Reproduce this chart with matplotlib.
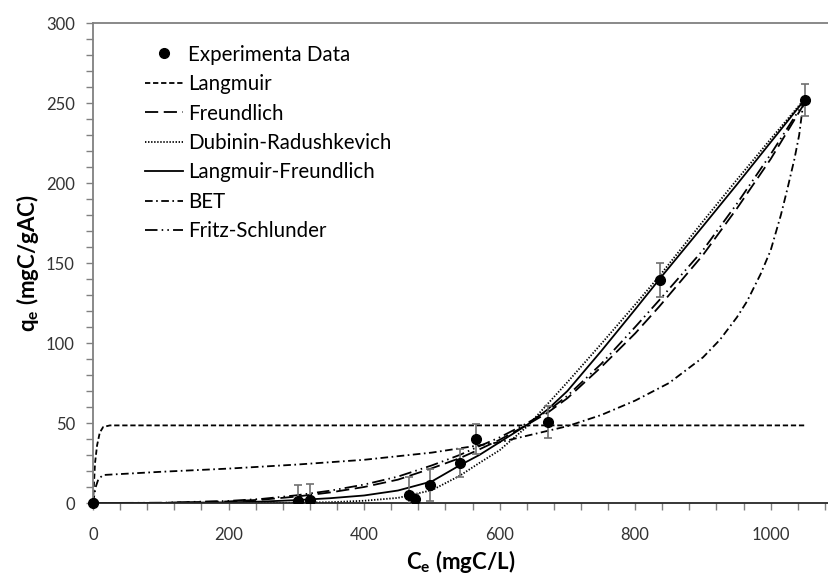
import matplotlib
matplotlib.use("Agg")
import matplotlib.pyplot as plt
from matplotlib.ticker import MultipleLocator
from matplotlib.lines import Line2D

plt.rcParams['font.family'] = ['Lato', 'DejaVu Sans']
plt.rcParams['lines.scale_dashes'] = False

# Experimental equilibrium data
ce_exp = [0, 302, 320, 467, 475, 497, 541, 565, 671, 836, 1050]
qe_exp = [0, 1.2, 1.9, 5.0, 2.5, 11.2, 25.0, 40.0, 50.6, 139.4, 252.0]
qe_err = [0, 10, 10, 11, 3, 10, 9, 9.5, 10, 10.5, 10]

# Model isotherm curves
ce_lang = [0, 3, 6, 10, 15, 25, 100, 1050]
q_lang = [0, 25, 36, 44, 47.5, 48.5, 48.5, 48.5]

ce_model = [0, 100, 200, 250, 300, 350, 400, 450, 500, 541, 570, 600, 641, 671,
            700, 750, 800, 836, 900, 950, 1000, 1050]
q_freundlich = [0, 0.1, 1.0, 2.1, 4.0, 6.6, 10.0, 14.6, 21.7, 28.0, 33.5, 39.5,
                49.0, 56.5, 65.5, 85.0, 106.0, 123.0, 155.0, 184.0, 215.0, 250.0]
q_dr = [0, 0, 0.01, 0.05, 0.15, 0.5, 1.4, 3.2, 8.0, 17.0, 25.0, 33.0,
        48.0, 62.0, 75.5, 99.5, 124.0, 142.0, 176.0, 202.0, 227.5, 252.5]
q_lf = [0, 0.05, 0.4, 0.9, 1.8, 3.0, 4.7, 7.8, 13.5, 23.5, 30.0, 38.0,
        49.0, 58.5, 70.0, 95.0, 121.0, 140.0, 173.0, 199.0, 225.5, 252.0]
q_fritz = [0, 0.15, 1.3, 2.6, 4.8, 7.7, 11.5, 16.5, 23.5, 30.0, 35.5, 41.0,
           50.0, 57.5, 67.0, 87.0, 110.0, 127.0, 158.0, 187.0, 218.0, 251.0]

ce_bet = [0, 4, 8, 15, 100, 200, 300, 400, 500, 600, 700, 750, 800, 850, 900,
          925, 950, 965, 985, 1000, 1015, 1025, 1035, 1042, 1048]
q_bet = [0, 10, 15, 17.5, 19.5, 21.5, 24, 27, 31.5, 38, 48, 55, 64, 75, 91,
         102, 116, 126, 143, 158, 180, 197, 215, 230, 250]

fig = plt.figure(figsize=(8.29, 5.76), dpi=100)
ax = fig.add_axes([93 / 829, 73 / 576, 736 / 829, 480 / 576])

lw = 1.3
ax.errorbar(ce_exp, qe_exp, yerr=qe_err, fmt='o', color='black', ms=7,
            ecolor='#707070', elinewidth=1.2, capsize=3, capthick=1.2, zorder=5)
ax.plot([ce_exp[0]], [qe_exp[0]], 'o', color='black', ms=7, clip_on=False, zorder=6)

styles = [
    ('Langmuir', ce_lang, q_lang, (3.8, 2.0)),
    ('Freundlich', ce_model, q_freundlich, (9.5, 4)),
    ('Dubinin-Radushkevich', ce_model, q_dr, (1.0, 1.2)),
    ('Langmuir-Freundlich', ce_model, q_lf, None),
    ('BET', ce_bet, q_bet, (5.5, 2.5, 1.2, 2.5)),
    ('Fritz-Schlunder', ce_model, q_fritz, (9, 3, 1.1, 3, 1.1, 3)),
]
handles = [Line2D([], [], ls='none', marker='o', color='black', ms=7,
                  label='Experimenta Data')]
for name, xs, ys, dash in styles:
    kw = dict(color='black', lw=lw, label=name)
    if dash is not None:
        kw['dashes'] = dash
    line, = ax.plot(xs, ys, **kw)
    handles.append(line)

ax.set_xlim(0, 1086)
ax.set_ylim(0, 300)
ax.xaxis.set_major_locator(MultipleLocator(200))
ax.xaxis.set_minor_locator(MultipleLocator(40))
ax.yaxis.set_major_locator(MultipleLocator(50))
ax.yaxis.set_minor_locator(MultipleLocator(10))
for axis in (ax.xaxis, ax.yaxis):
    axis.set_tick_params(which='both', direction='out', length=5, width=1,
                         color='#808080', labelsize=12, labelcolor='#333333')
ax.tick_params(axis='x', which='major', pad=12)
ax.tick_params(axis='y', which='major', pad=8)

ax.spines['right'].set_visible(False)
ax.spines['top'].set_color('#808080')
ax.spines['left'].set_color('#808080')
ax.spines['bottom'].set_color('#262626')
for s in ax.spines.values():
    s.set_linewidth(1.3)

ax.set_xlabel(r'C$_\mathregular{e}$ (mgC/L)', fontsize=16, fontweight='bold', labelpad=4)
ax.set_ylabel(r'q$_\mathregular{e}$ (mgC/gAC)', fontsize=16, fontweight='bold', labelpad=4)

ax.legend(handles=handles, loc='upper left', bbox_to_anchor=(0.0707, 0.955),
          frameon=False, fontsize=14.8, handlelength=1.85, handletextpad=0.25,
          labelspacing=0.46, borderaxespad=0, borderpad=0)

fig.savefig('out.png', dpi=100)
